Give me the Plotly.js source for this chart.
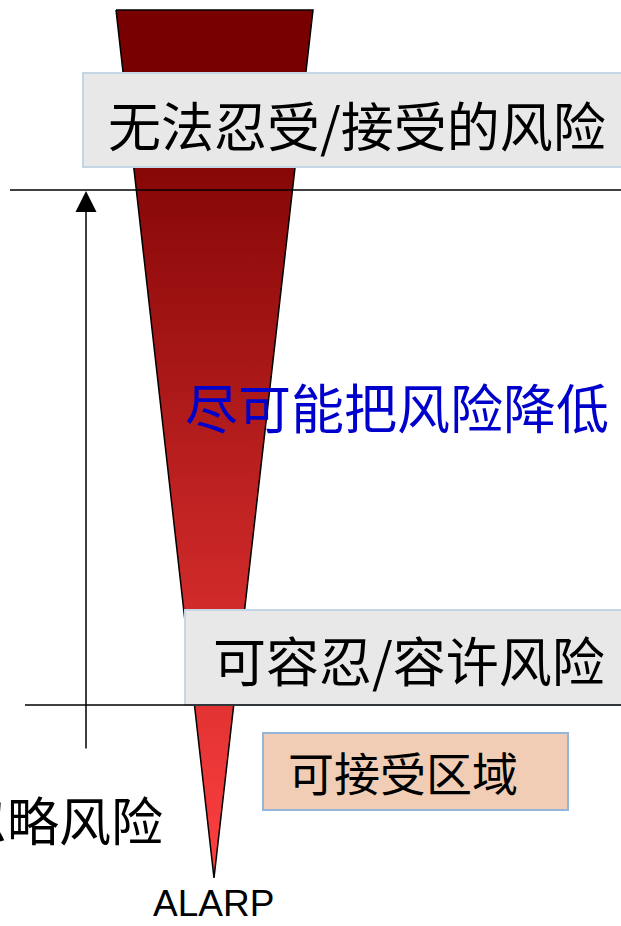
<!DOCTYPE html>
<html>
<head>
<meta charset="utf-8">
<script src="https://cdn.plot.ly/plotly-3.0.1.min.js"></script>
<style>html,body{margin:0;padding:0;background:#fff;}#chart{width:621px;height:926px;}</style>
</head>
<body>
<div id="chart"></div>
<script>
// Diagram content
const zoneLabels = ["无法忍受/接受的风险", "可容忍/容许风险", "可接受区域"];
const middleLabel = "尽可能把风险降低";
const sideLabel = "忽略风险";
const tipLabel = "ALARP";
// Funnel (wedge) outline: x and y in page pixels
const wedgeX = [116, 313, 214, 116];
const wedgeY = [10, 10, 878, 10];
const wedgeColors = ["#780000", "#ff4040"];

const cjk = "Noto Sans CJK SC, sans-serif";

const wedge = {
  type: "scatter", mode: "lines",
  x: wedgeX, y: wedgeY,
  fill: "toself",
  fillgradient: {type: "vertical", start: 10, stop: 878,
    colorscale: [[0, wedgeColors[0]], [0.08, wedgeColors[0]], [1, wedgeColors[1]]]},
  line: {color: "#000", width: 1.5},
  hoverinfo: "skip", showlegend: false
};

const layout = {
  width: 621, height: 926,
  margin: {l: 0, r: 0, t: 0, b: 0},
  paper_bgcolor: "#fff", plot_bgcolor: "#fff",
  xaxis: {range: [0, 621], visible: false, fixedrange: true},
  yaxis: {range: [926, 0], visible: false, fixedrange: true},
  showlegend: false,
  shapes: [
    {type: "rect", layer: "above", xref: "x", yref: "y", x0: 83, x1: 640, y0: 73, y1: 167,
      fillcolor: "#e8e8e8", line: {color: "#c4d6e6", width: 2}},
    {type: "rect", layer: "above", xref: "x", yref: "y", x0: 185, x1: 640, y0: 610, y1: 705,
      fillcolor: "#e8e8e8", line: {color: "#c4d6e6", width: 2}},
    {type: "rect", layer: "above", xref: "x", yref: "y", x0: 263, x1: 568, y0: 733, y1: 810,
      fillcolor: "#f0cdb4", line: {color: "#94b6d8", width: 2}},
    {type: "line", layer: "above", xref: "x", yref: "y", x0: 10, x1: 621, y0: 190, y1: 190,
      line: {color: "#000", width: 1.5}},
    {type: "line", layer: "above", xref: "x", yref: "y", x0: 25, x1: 621, y0: 705, y1: 705,
      line: {color: "#000", width: 1.5}}
  ],
  annotations: [
    {x: 106, y: 124, xref: "x", yref: "y", xanchor: "left", yanchor: "middle", showarrow: false,
      text: zoneLabels[0], font: {family: cjk, size: 53, color: "#000"}},
    {x: 211, y: 659, xref: "x", yref: "y", xanchor: "left", yanchor: "middle", showarrow: false,
      text: zoneLabels[1], font: {family: cjk, size: 53, color: "#000"}},
    {x: 286, y: 771, xref: "x", yref: "y", xanchor: "left", yanchor: "middle", showarrow: false,
      text: zoneLabels[2], font: {family: cjk, size: 46, color: "#000"}},
    {x: 183, y: 406, xref: "x", yref: "y", xanchor: "left", yanchor: "middle", showarrow: false,
      text: middleLabel, font: {family: cjk, size: 53, color: "#0000cc"}},
    {x: 165, y: 818, xref: "x", yref: "y", xanchor: "right", yanchor: "middle", showarrow: false,
      text: sideLabel, font: {family: cjk, size: 52, color: "#000"}},
    {x: 213, y: 903, xref: "x", yref: "y", xanchor: "center", yanchor: "middle", showarrow: false,
      text: tipLabel, font: {family: "Liberation Sans, Arial, sans-serif", size: 37, color: "#000"}},
    {x: 86, y: 191, ax: 86, ay: 750, xref: "x", yref: "y", axref: "x", ayref: "y",
      showarrow: true, arrowhead: 2, arrowsize: 2.8, arrowwidth: 1.5, arrowcolor: "#000", text: ""}
  ]
};

Plotly.newPlot("chart", [wedge], layout, {staticPlot: true, displayModeBar: false});
</script>
</body>
</html>
